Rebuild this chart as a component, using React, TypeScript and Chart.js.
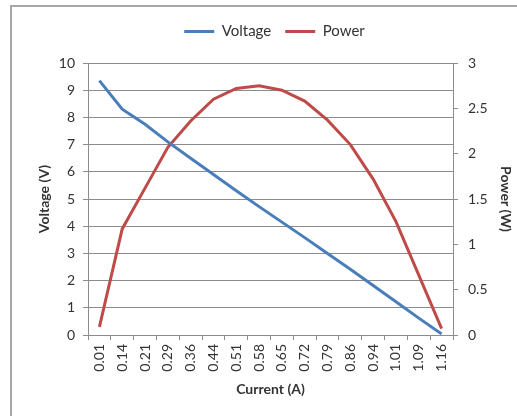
import React, { useEffect, useRef } from "react";
import { Chart, registerables } from "chart.js";

Chart.register(...registerables);

const categories = ["0.01", "0.14", "0.21", "0.29", "0.36", "0.44", "0.51", "0.58", "0.65", "0.72", "0.79", "0.86", "0.94", "1.01", "1.09", "1.16"];
const voltage = [9.35, 8.3, 7.75, 7.1, 6.5, 5.9, 5.3, 4.72, 4.15, 3.58, 3.0, 2.42, 1.82, 1.22, 0.62, 0.04];
const power = [0.09, 1.17, 1.62, 2.07, 2.36, 2.6, 2.72, 2.75, 2.7, 2.58, 2.37, 2.1, 1.72, 1.25, 0.66, 0.07];

const FONT = "Lato, 'Open Sans', sans-serif";
const GRID = "#8c8c8c";
const TEXT = "#333333";

export default function App() {
  const ref = useRef<HTMLCanvasElement | null>(null);

  useEffect(() => {
    document.body.style.margin = "0";
    const legendSpace = {
      id: "legendSpace",
      afterInit(chart: any) {
        const lg = chart.legend;
        if (lg && !lg._patched) {
          const fit = lg.fit.bind(lg);
          lg.fit = function () {
            fit();
            this.height += 14;
          };
          const draw = lg.draw.bind(lg);
          lg.draw = function () {
            const ctx = chart.ctx;
            ctx.save();
            ctx.translate(16, 0);
            draw();
            ctx.restore();
          };
          lg._patched = true;
        }
      },
    };
    const chart = new Chart(ref.current as HTMLCanvasElement, {
      type: "line",
      data: {
        labels: categories,
        datasets: [
          {
            label: "Voltage",
            data: voltage,
            borderColor: "#4A7EBB",
            backgroundColor: "#4A7EBB",
            borderWidth: 3,
            pointRadius: 0,
            tension: 0,
            yAxisID: "y",
          },
          {
            label: "Power",
            data: power,
            borderColor: "#BE4B48",
            backgroundColor: "#BE4B48",
            borderWidth: 3,
            pointRadius: 0,
            tension: 0,
            yAxisID: "y1",
          },
        ],
      },
      options: {
        animation: false,
        responsive: false,
        layout: { padding: { top: 10, left: 0, right: 0, bottom: 0 } },
        plugins: {
          tooltip: { enabled: false },
          legend: {
            position: "top",
            labels: {
              usePointStyle: true,
              pointStyle: "line",
              pointStyleWidth: 30,
              boxWidth: 30,
              padding: 14,
              color: TEXT,
              font: { family: FONT, size: 15 },
            },
          },
        },
        scales: {
          x: {
            offset: true,
            grid: {
              offset: true,
              drawOnChartArea: false,
              drawTicks: true,
              tickLength: 5,
              color: GRID,
            },
            border: { color: GRID },
            ticks: {
              minRotation: 90,
              maxRotation: 90,
              autoSkip: false,
              padding: 4,
              color: TEXT,
              font: { family: FONT, size: 14 },
            },
            title: {
              display: true,
              text: "Current (A)",
              color: TEXT,
              font: { family: FONT, size: 14, weight: "bold" },
              padding: { top: 0, bottom: 18 },
            },
            afterFit(scale: any) {
              scale.height = 81;
            },
          },
          y: {
            position: "left",
            min: 0,
            max: 10,
            ticks: {
              stepSize: 1,
              padding: 8,
              color: TEXT,
              font: { family: FONT, size: 14 },
            },
            grid: { color: GRID, tickLength: 5 },
            border: { color: GRID },
            title: {
              display: true,
              text: "Voltage (V)",
              color: TEXT,
              font: { family: FONT, size: 14, weight: "bold" },
              padding: { top: 36, bottom: 0 },
            },
            afterFit(scale: any) {
              scale.width = 88;
            },
          },
          y1: {
            position: "right",
            min: 0,
            max: 3,
            ticks: {
              stepSize: 0.5,
              padding: 10,
              color: TEXT,
              font: { family: FONT, size: 14 },
              callback: (v: any) => String(Number(v)),
            },
            grid: { drawOnChartArea: false, color: GRID, tickLength: 5 },
            border: { color: GRID },
            title: {
              display: true,
              text: "Power (W)",
              color: TEXT,
              font: { family: FONT, size: 14, weight: "bold" },
              padding: { top: 3, bottom: 0 },
            },
            afterFit(scale: any) {
              scale.width = 64;
            },
          },
        },
      },
      plugins: [legendSpace],
    } as any);
    return () => chart.destroy();
  }, []);

  return (
    <div style={{ position: "relative", width: 517, height: 416, overflow: "hidden", background: "#fff" }}>
      <canvas ref={ref} width={517} height={416} style={{ display: "block" }} />
      <div
        style={{
          position: "absolute",
          left: 10,
          top: 5,
          width: 600,
          height: 500,
          borderLeft: "2px solid #a6a6a6",
          borderTop: "2px solid #a6a6a6",
          pointerEvents: "none",
        }}
      />
    </div>
  );
}
